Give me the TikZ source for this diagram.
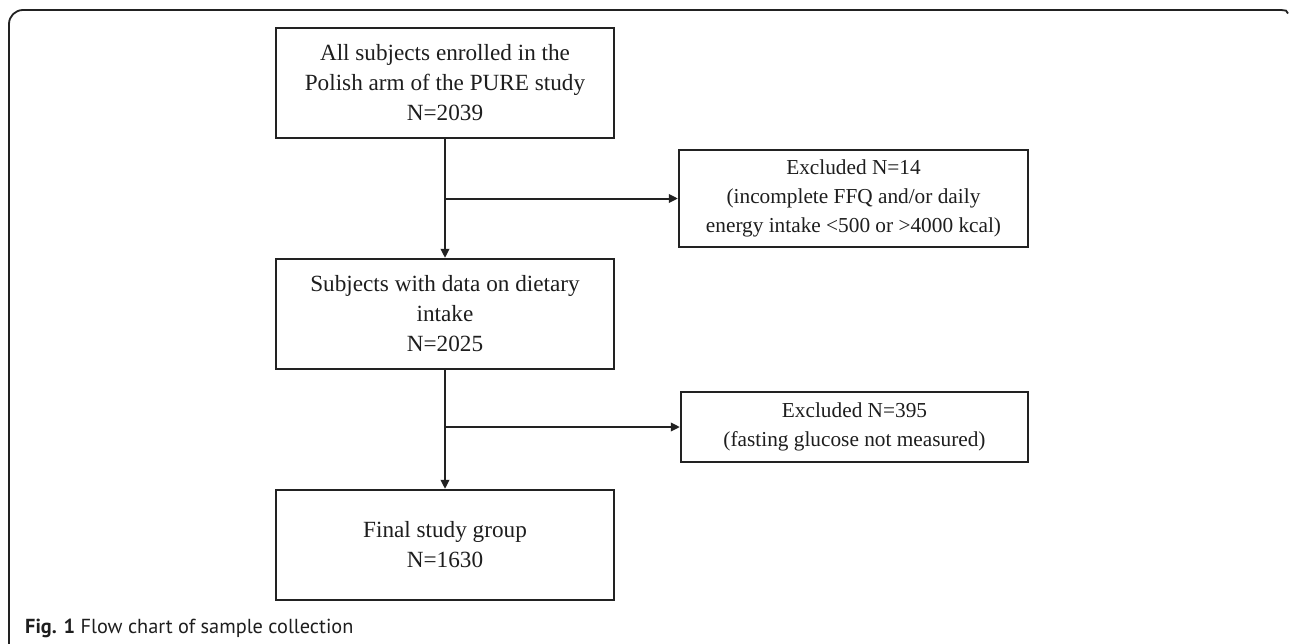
\documentclass[tikz,border=0pt]{standalone}
\usepackage{fontspec}
\setmainfont{Liberation Serif}
\newfontfamily\capfont{PT Sans}
\usetikzlibrary{arrows.meta,calc}
\definecolor{linec}{HTML}{222222}
\definecolor{textc}{HTML}{1E1E1E}
\begin{document}
\begin{tikzpicture}[x=1pt,y=-1pt,
  flowbox/.style={draw=linec, line width=2.3pt, inner sep=0pt, align=center,
    text=textc, font=\fontsize{23.2}{30}\selectfont},
  exbox/.style={flowbox, font=\fontsize{21.3}{29}\selectfont},
  arr/.style={draw=linec, line width=2pt, -{Triangle[length=9pt,width=8.5pt]}},
  framec/.style={draw=linec, line width=1.8pt}]
\useasboundingbox (0,0) rectangle (1290,643);
\fill[white] (0,0) rectangle (1290,643);
% frame
\draw[framec, rounded corners=14pt] (9,645) -- (9,10) -- (1282,10);
\draw[framec] (1281,10) -- (1286,10.6) -- (1288,13.5);
% boxes
\node[flowbox, minimum width=338pt, minimum height=110pt] (b1) at (445,83)
  {All subjects enrolled in the\\Polish arm of the PURE study\\N=2039};
\node[flowbox, minimum width=338pt, minimum height=110pt] (b2) at (445,314)
  {Subjects with data on dietary\\intake\\N=2025};
\node[flowbox, minimum width=338pt, minimum height=110pt] (b3) at (445,545)
  {Final study group\\N=1630};
\node[exbox, minimum width=349pt, minimum height=97pt] (e1) at (853.5,198.5)
  {Excluded N=14\\(incomplete FFQ and/or daily\\energy intake <500 or >4000 kcal)};
\node[exbox, minimum width=347pt, minimum height=70pt] (e2) at (854.5,427)
  {Excluded N=395\\(fasting glucose not measured)};
% connectors
\coordinate (j1) at (b1.south |- e1.west);
\coordinate (j2) at (b2.south |- e2.west);
\draw[arr] (b1.south) -- (b2.north);
\draw[arr] (j1) -- (e1.west);
\draw[arr] (b2.south) -- (b3.north);
\draw[arr] (j2) -- (e2.west);
% caption
\node[anchor=base west, inner sep=0pt, text=textc, font=\capfont\fontsize{20.3}{22}\selectfont] (cap) at (25,633)
  {\textbf{Fig. 1}\ Flow chart of sample collection};
\end{tikzpicture}
\end{document}
